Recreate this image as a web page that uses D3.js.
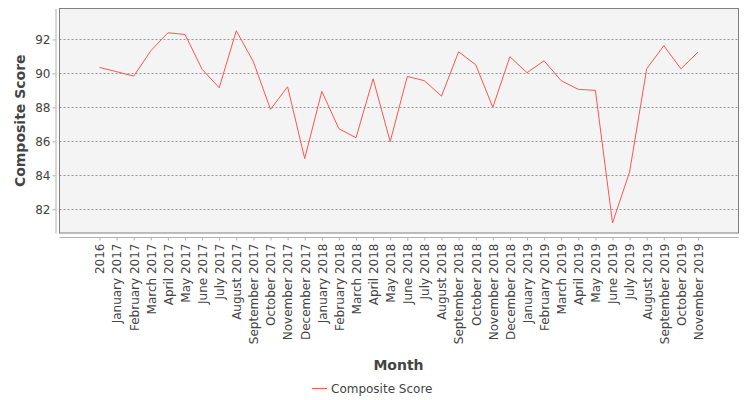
<!DOCTYPE html>
<html>
<head>
<meta charset="utf-8">
<script src="https://cdn.jsdelivr.net/npm/d3@7"></script>
<style>
  body { margin: 0; background: #fff; }
  svg { display: block; font-family: "DejaVu Sans", sans-serif; }
</style>
</head>
<body>
<div id="chart"></div>
<script>
// Data
const months = [
    "2016",
    "January 2017", "February 2017", "March 2017", "April 2017", "May 2017", "June 2017",
    "July 2017", "August 2017", "September 2017", "October 2017", "November 2017", "December 2017",
    "January 2018", "February 2018", "March 2018", "April 2018", "May 2018", "June 2018",
    "July 2018", "August 2018", "September 2018", "October 2018", "November 2018", "December 2018",
    "January 2019", "February 2019", "March 2019", "April 2019", "May 2019", "June 2019",
    "July 2019", "August 2019", "September 2019", "October 2019", "November 2019"
];
const compositeScore = [
    90.35,
    90.1, 89.84, 91.33, 92.39, 92.29, 90.24,
    89.15, 92.51, 90.68, 87.88, 89.21, 84.98,
    88.94, 86.74, 86.21, 89.68, 85.98, 89.82,
    89.57, 88.66, 91.27, 90.51, 88.0, 90.98,
    90.04, 90.74, 89.57, 89.06, 89.0, 81.19,
    84.2, 90.27, 91.63, 90.27, 91.25
];
const yTicks = [82, 84, 86, 88, 90, 92];
const seriesName = "Composite Score";

const width = 750;
const height = 400;
const plot = { left: 59.5, top: 8.5, right: 738.5, bottom: 233 };
const textColor = "#444";

const svg = d3.select("#chart")
    .append("svg")
    .attr("width", width)
    .attr("height", height);

// scales
const x = d3.scalePoint()
    .domain(months)
    .range([plot.left + 40, plot.right - 40.5]);
const y = d3.scaleLinear()
    .domain([80.6, 93.82])
    .range([plot.bottom, plot.top]);

// plot background
svg.append("rect")
    .attr("x", plot.left)
    .attr("y", plot.top)
    .attr("width", plot.right - plot.left)
    .attr("height", plot.bottom - plot.top)
    .attr("fill", "#f4f4f4");

// gridlines
svg.append("g")
    .selectAll("line")
    .data(yTicks)
    .enter()
    .append("line")
    .attr("x1", plot.left)
    .attr("x2", plot.right)
    .attr("y1", d => Math.round(y(d)) + 0.5)
    .attr("y2", d => Math.round(y(d)) + 0.5)
    .attr("stroke", "#808080")
    .attr("stroke-width", 0.8)
    .attr("stroke-dasharray", "2,2");

// plot border
svg.append("rect")
    .attr("x", plot.left)
    .attr("y", plot.top)
    .attr("width", plot.right - plot.left)
    .attr("height", plot.bottom - plot.top)
    .attr("fill", "none")
    .attr("stroke", "#808080")
    .attr("stroke-width", 1);

// y axis
const yAxis = svg.append("g")
    .attr("transform", "translate(55.5,0)")
    .call(d3.axisLeft(y).tickValues(yTicks).tickSize(3).tickSizeOuter(0).tickPadding(2));
yAxis.select(".domain").attr("stroke", "#b0b0b0");
yAxis.selectAll(".tick line").attr("stroke", "#b0b0b0");
yAxis.selectAll("text")
    .attr("fill", textColor)
    .style("font-size", "12px")
    .style("font-family", "DejaVu Sans, sans-serif");

// x axis
const xAxis = svg.append("g")
    .attr("transform", "translate(0,237.5)")
    .call(d3.axisBottom(x).tickSize(3).tickSizeOuter(0));
xAxis.select(".domain").remove();
xAxis.append("line")
    .attr("x1", plot.left)
    .attr("x2", plot.right)
    .attr("stroke", "#b0b0b0");
xAxis.selectAll(".tick line").attr("stroke", "#b0b0b0");
xAxis.selectAll("text")
    .attr("transform", "rotate(-90)")
    .attr("text-anchor", "end")
    .attr("x", -6)
    .attr("y", 0)
    .attr("dy", "0.36em")
    .attr("fill", textColor)
    .style("font-size", "12px")
    .style("font-family", "DejaVu Sans, sans-serif");

// line
const line = d3.line()
    .x((d, i) => x(months[i]))
    .y(d => y(d));

svg.append("path")
    .datum(compositeScore)
    .attr("fill", "none")
    .attr("stroke", "#ff5555")
    .attr("stroke-width", 1)
    .attr("d", line);

// axis titles
svg.append("text")
    .attr("transform", "translate(24.5," + ((plot.top + plot.bottom) / 2) + ") rotate(-90)")
    .attr("text-anchor", "middle")
    .attr("fill", textColor)
    .style("font-size", "14px")
    .style("font-weight", "bold")
    .text("Composite Score");

svg.append("text")
    .attr("x", 398.5)
    .attr("y", 369.5)
    .attr("text-anchor", "middle")
    .attr("fill", textColor)
    .style("font-size", "14px")
    .style("font-weight", "bold")
    .text("Month");

// legend
const legend = svg.append("g").attr("transform", "translate(312,388.5)");
legend.append("line")
    .attr("x1", 0)
    .attr("x2", 15)
    .attr("stroke", "#ff5555")
    .attr("stroke-width", 1);
legend.append("text")
    .attr("x", 19)
    .attr("y", 4)
    .attr("fill", textColor)
    .style("font-size", "12px")
    .text(seriesName);
</script>
</body>
</html>
